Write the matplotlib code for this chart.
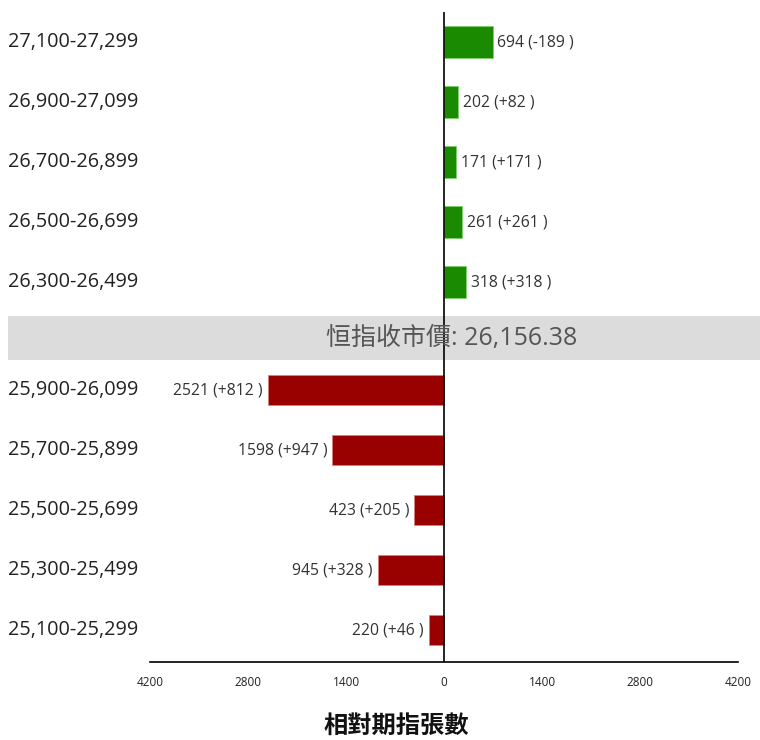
import numpy as np
import matplotlib.pyplot as plt
import matplotlib.transforms as mtransforms
from matplotlib.patches import Rectangle

plt.rcParams['font.family'] = ['Open Sans', 'Noto Sans CJK TC', 'DejaVu Sans']

# call side (above close), put side (below close)
call_ranges = ["27,100-27,299", "26,900-27,099", "26,700-26,899", "26,500-26,699", "26,300-26,499"]
call_oi = [694, 202, 171, 261, 318]
call_chg = [-189, 82, 171, 261, 318]

put_ranges = ["25,900-26,099", "25,700-25,899", "25,500-25,699", "25,300-25,499", "25,100-25,299"]
put_oi = [2521, 1598, 423, 945, 220]
put_chg = [812, 947, 205, 328, 46]

close_label = "恒指收市價: 26,156.38"
xlabel = "相對期指張數"
xticks = [-4200, -2800, -1400, 0, 1400, 2800, 4200]

gap = 0.8  # extra room for the close-price band
y_call = np.arange(len(call_oi)) + 0.5
y_put = np.arange(len(put_oi)) + len(call_oi) + 0.5 + gap

fig = plt.figure(figsize=(7.6, 7.4), dpi=100)
ax = fig.add_axes([150/760, 78/740, 588/760, 650/740])

ax.barh(y_call, call_oi, height=0.53, color='#1a8a00', edgecolor='#7fcf6f', linewidth=0.6, zorder=2)
ax.barh(y_put, -np.array(put_oi), height=0.5, color='#990000', edgecolor='#d98080', linewidth=0.6, zorder=2)

for y, v, c in zip(y_call, call_oi, call_chg):
    ax.text(v + 70, y, f"{v} ({c:+d} )", va='center', ha='left', fontsize=11.3, color='#333333')
for y, v, c in zip(y_put, put_oi, put_chg):
    ax.text(-v - 70, y, f"{v} ({c:+d} )", va='center', ha='right', fontsize=11.3, color='#333333')

# category labels at far left of the figure
trans = mtransforms.blended_transform_factory(fig.transFigure, ax.transData)
for y, lab in zip(np.concatenate([y_call, y_put]), call_ranges + put_ranges):
    ax.text(8/760, y, lab, transform=trans, va='center', ha='left', fontsize=14.3, color='#222222')

# gray band with closing price
band_top = len(call_oi) + 0.07
band_h = 0.73
ax.add_patch(Rectangle((8/760, band_top), 752/760, band_h, transform=trans,
                       facecolor='#dcdcdc', edgecolor='none', clip_on=False, zorder=1))
ax.text(452/760, band_top + band_h/2, close_label, transform=trans, ha='center', va='center',
        fontsize=18, color='#555555', zorder=4)

ax.axvline(0, color='black', linewidth=1.2, zorder=3)

ax.set_xlim(-4200, 4200)
ax.set_ylim(len(call_oi) + len(put_oi) + gap + 0.03, 0)
ax.set_xticks(xticks)
ax.set_xticklabels([str(abs(t)) for t in xticks], fontsize=8.5, color='#222222')
ax.set_yticks([])
ax.tick_params(axis='x', length=0, pad=10)
for s in ['top', 'left', 'right']:
    ax.spines[s].set_visible(False)
ax.spines['bottom'].set_linewidth(1.2)

fig.text(396/760, 1 - 727/740, xlabel, ha='center', va='center', fontsize=17.5,
         fontweight='bold', color='#111111')

fig.savefig('out.png', dpi=100)
